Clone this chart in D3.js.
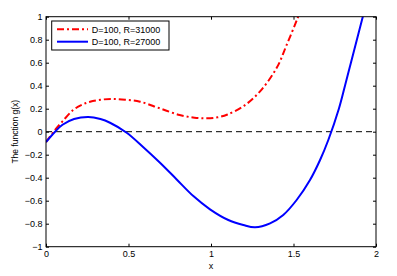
<!DOCTYPE html>
<meta charset="utf-8">
<script src="https://d3js.org/d3.v7.min.js"></script>
<style>
  body { margin: 0; background: #fff; }
  text { font-family: "Liberation Sans", Arial, sans-serif; }
</style>
<svg id="chart" width="397" height="276"></svg>
<script>

// values
const xTicks = [0, 0.5, 1, 1.5, 2];
const xTickLabels = ["0", "0.5", "1", "1.5", "2"];
const yTicks = [-1, -0.8, -0.6, -0.4, -0.2, 0, 0.2, 0.4, 0.6, 0.8, 1];
const yTickLabels = ["\u22121", "\u22120.8", "\u22120.6", "\u22120.4", "\u22120.2", "0", "0.2", "0.4", "0.6", "0.8", "1"];

const seriesNames = ["D=100, R=31000", "D=100, R=27000"];

// D=100, R=31000 (red, dash-dot)
const redX = [0, 0.055, 0.1, 0.166, 0.22, 0.267, 0.33, 0.398, 0.48, 0.57, 0.69, 0.81, 0.9, 0.974, 1.04, 1.1, 1.2, 1.3, 1.4, 1.46, 1.52, 1.56];
const redY = [-0.09, 0.015, 0.09, 0.19, 0.235, 0.261, 0.278, 0.284, 0.278, 0.261, 0.203, 0.145, 0.122, 0.116, 0.125, 0.15, 0.225, 0.355, 0.56, 0.76, 0.97, 1.12];

// D=100, R=27000 (blue, solid)
const blueX = [0, 0.055, 0.1, 0.17, 0.256, 0.33, 0.388, 0.489, 0.59, 0.691, 0.792, 0.893, 0.994, 1.105, 1.196, 1.267, 1.358, 1.438, 1.519, 1.6, 1.661, 1.711, 1.775, 1.812, 1.848, 1.884, 1.92, 1.95];
const blueY = [-0.09, 0, 0.06, 0.11, 0.128, 0.11, 0.078, -0.009, -0.135, -0.27, -0.415, -0.56, -0.675, -0.768, -0.811, -0.831, -0.797, -0.724, -0.594, -0.42, -0.246, -0.072, 0.2, 0.4, 0.6, 0.8, 1.0, 1.17];

const svg = d3.select("#chart");
const margin = {top: 16.7, right: 21, bottom: 29.3, left: 46};
const width = 397 - margin.left - margin.right,
      height = 276 - margin.top - margin.bottom;

const g = svg.append("g")
  .attr("transform", `translate(${margin.left}, ${margin.top})`);

const x = d3.scaleLinear().domain([0, 2]).range([0, width]);
const y = d3.scaleLinear().domain([-1, 1]).range([height, 0]);

g.append("clipPath").attr("id", "clip")
  .append("rect").attr("width", width).attr("height", height);

// axes, ticks pointing inward (box on)
function styleAxis(sel) {
  sel.select(".domain").remove();
  sel.selectAll("line").attr("stroke", "#000");
  sel.selectAll("text").attr("font-size", 9).attr("fill", "#000");
}

g.append("g")
  .attr("transform", `translate(0, ${height})`)
  .call(d3.axisBottom(x).tickValues(xTicks).tickFormat((d, i) => xTickLabels[i])
    .tickSizeInner(-3).tickSizeOuter(0).tickPadding(4))
  .call(styleAxis);

g.append("g")
  .call(d3.axisTop(x).tickValues(xTicks).tickFormat("")
    .tickSizeInner(-3).tickSizeOuter(0))
  .call(styleAxis);

g.append("g")
  .call(d3.axisLeft(y).tickValues(yTicks).tickFormat((d, i) => yTickLabels[i])
    .tickSizeInner(-3).tickSizeOuter(0).tickPadding(3.5))
  .call(styleAxis);

g.append("g")
  .attr("transform", `translate(${width}, 0)`)
  .call(d3.axisRight(y).tickValues(yTicks).tickFormat("")
    .tickSizeInner(-3).tickSizeOuter(0))
  .call(styleAxis);

// zero line
g.append("line")
  .attr("x1", x(0)).attr("x2", x(2))
  .attr("y1", y(0)).attr("y2", y(0))
  .attr("stroke", "#000")
  .attr("stroke-width", 1)
  .attr("stroke-dasharray", "6,4");

const line = d3.line()
  .x(d => x(d[0]))
  .y(d => y(d[1]))
  .curve(d3.curveCatmullRom.alpha(0.5));

const curves = g.append("g").attr("clip-path", "url(#clip)");

curves.append("path")
  .datum(d3.zip(redX, redY))
  .attr("d", line)
  .attr("fill", "none")
  .attr("stroke", "#ff0000")
  .attr("stroke-width", 2)
  .attr("stroke-dasharray", "7,3,2,3");

curves.append("path")
  .datum(d3.zip(blueX, blueY))
  .attr("d", line)
  .attr("fill", "none")
  .attr("stroke", "#0000ff")
  .attr("stroke-width", 2);

// box
g.append("rect")
  .attr("width", width).attr("height", height)
  .attr("fill", "none").attr("stroke", "#000").attr("stroke-width", 1);

// legend
const legend = svg.append("g").attr("transform", "translate(51.7, 21)");
legend.append("rect")
  .attr("width", 117.3).attr("height", 29)
  .attr("fill", "#fff").attr("stroke", "#000").attr("stroke-width", 1);

const legendStyles = [
  {color: "#ff0000", dash: "7,3,2,3"},
  {color: "#0000ff", dash: null}
];
seriesNames.forEach((name, i) => {
  const ly = 8.3 + i * 12.4;
  legend.append("line")
    .attr("x1", 5.3).attr("x2", 36.3)
    .attr("y1", ly).attr("y2", ly)
    .attr("stroke", legendStyles[i].color)
    .attr("stroke-width", 2)
    .attr("stroke-dasharray", legendStyles[i].dash);
  legend.append("text")
    .attr("x", 40).attr("y", ly + 3.2)
    .attr("font-size", 9)
    .text(name);
});

// axis labels
svg.append("text")
  .attr("x", margin.left + width / 2)
  .attr("y", 269)
  .attr("text-anchor", "middle")
  .attr("font-size", 9)
  .text("x");

svg.append("text")
  .attr("transform", `translate(17.5, ${margin.top + height / 2}) rotate(-90)`)
  .attr("text-anchor", "middle")
  .attr("font-size", 8.5)
  .text("The function g(x)");

</script>
